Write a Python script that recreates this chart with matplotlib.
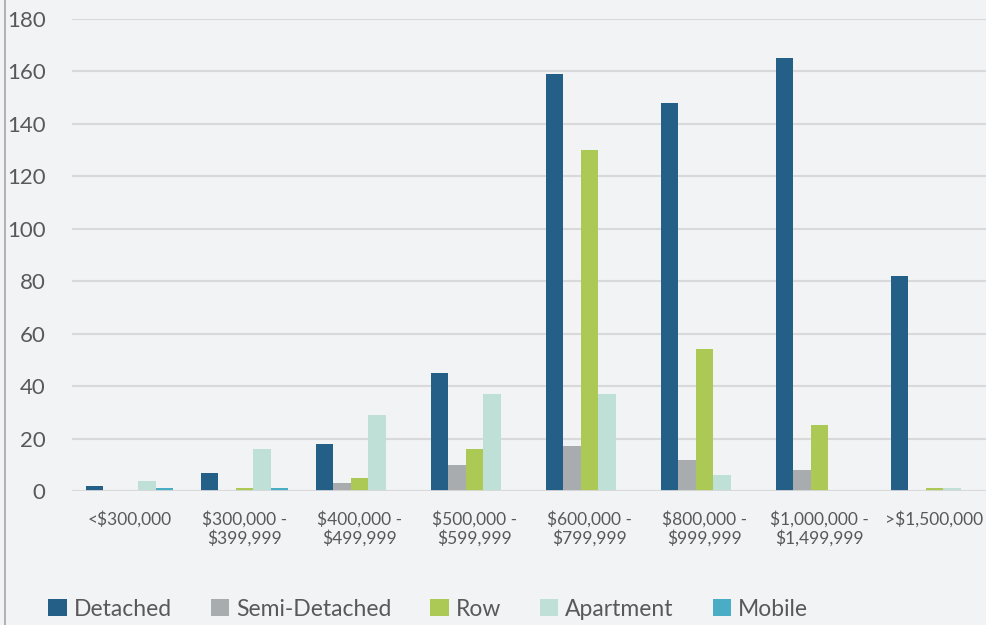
import numpy as np
import matplotlib.pyplot as plt
from matplotlib.patches import Patch
from matplotlib.lines import Line2D

categories = ['<$300,000', '$300,000 -\n$399,999', '$400,000 -\n$499,999',
              '$500,000 -\n$599,999', '$600,000 -\n$799,999', '$800,000 -\n$999,999',
              '$1,000,000 -\n$1,499,999', '>$1,500,000']
series = ['Detached', 'Semi-Detached', 'Row', 'Apartment', 'Mobile']
detached = [2, 7, 18, 45, 159, 148, 165, 82]
semi = [0, 0, 3, 10, 17, 12, 8, 0]
row = [0, 1, 5, 16, 130, 54, 25, 1]
apartment = [4, 16, 29, 37, 37, 6, 0, 1]
mobile = [1, 1, 0, 0, 0, 0, 0, 0]
values = [detached, semi, row, apartment, mobile]
colors = ['#235F87', '#A8ACAF', '#ABC954', '#BFE0D6', '#4BACC6']

plt.rcParams['font.family'] = ['Lato', 'DejaVu Sans']
bg = '#F2F3F5'
txt = '#595959'

fig = plt.figure(figsize=(9.87, 6.25), dpi=100, facecolor=bg)
ax = fig.add_axes([72 / 987, 1 - 491 / 625, 920 / 987, 472 / 625])
ax.set_facecolor(bg)

x = np.arange(len(categories))
w = 0.153
for i, (name, vals) in enumerate(zip(series, values)):
    ax.bar(x + (i - 2) * w, vals, w, color=colors[i], label=name, zorder=3)

ax.set_xlim(-0.5, len(categories) - 0.5)
ax.set_ylim(0, 180)
ax.set_yticks(range(0, 181, 20))
ax.yaxis.grid(True, color='#D9D9D9', linewidth=1.5, zorder=0)
ax.axhline(0, color='#D9D9D9', linewidth=2, zorder=4)
for s in ax.spines.values():
    s.set_visible(False)
ax.tick_params(axis='y', length=0, labelsize=16, labelcolor=txt, pad=19)
ax.tick_params(axis='x', length=0, labelsize=12.5, labelcolor=txt, pad=14)
ax.set_xticks(x)
ax.set_xticklabels(categories, linespacing=1.15)

# left frame line
fig.add_artist(Line2D([5 / 987, 5 / 987], [0, 1], color='#A6A6A6', linewidth=1.2))

handles = [Patch(facecolor=c, label=n) for c, n in zip(colors, series)]
fig.legend(handles=handles, loc='center left', bbox_to_anchor=(37 / 987, 1 - 609 / 625),
           ncol=5, frameon=False, fontsize=16.5, labelcolor=txt, borderpad=0,
           handlelength=0.8, handleheight=0.8, handletextpad=0.3, columnspacing=1.7)

fig.savefig('out.png', dpi=100, facecolor=bg)
